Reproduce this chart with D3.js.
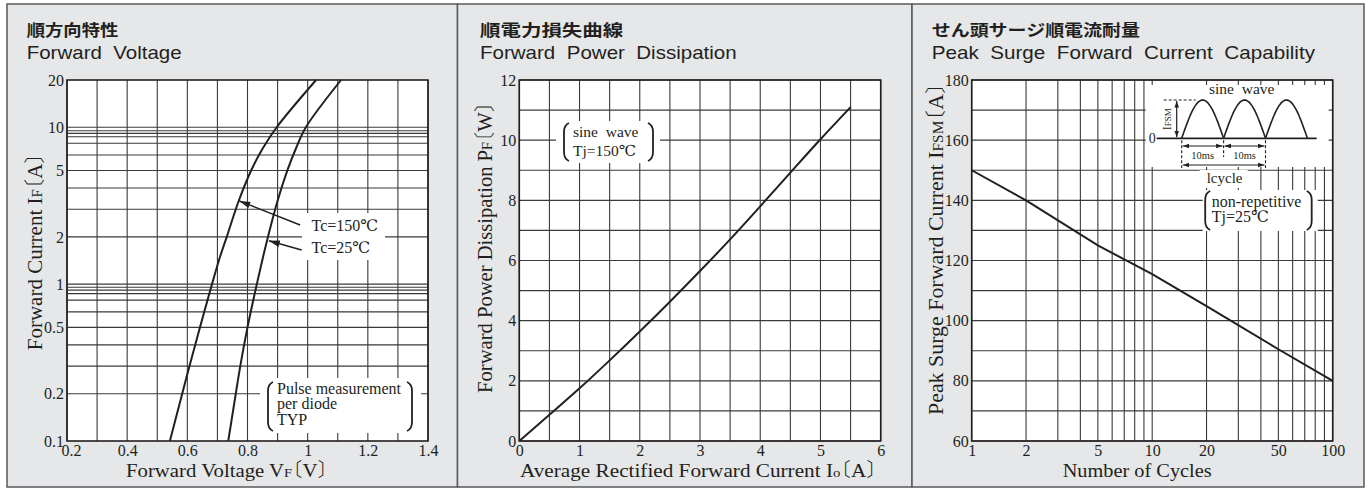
<!DOCTYPE html>
<html>
<head>
<meta charset="utf-8">
<script src="https://cdn.jsdelivr.net/npm/d3@7"></script>
<style>
  body { margin: 0; background: #fff; }
  svg { display: block; }
  text { fill: #231f20; }
  .jp-title { font-family: "Noto Sans CJK JP", sans-serif; font-weight: 700; font-size: 16px; }
  .en-title { font-family: "Liberation Sans", Arial, sans-serif; font-size: 19px; white-space: pre; }
  .serif, .tick text { font-family: "Liberation Serif", "DejaVu Serif", serif; }
  .tick text { font-size: 16px; fill: #231f20; }
  .cjk { font-family: "Noto Sans CJK JP", sans-serif; font-weight: 300; font-feature-settings: "halt" 1; }
  .note { font-size: 16px; white-space: pre; }
  .grid line { stroke: #3a3a3a; stroke-width: 1.1; }
</style>
</head>
<body>
<script>
// ---- Forward Voltage (順方向特性) ----
const fvCurrent = [0.1, 0.2, 0.3, 0.53, 1, 1.5, 2, 3.4, 5.4, 7.4, 10, 20];
const fvVoltage150 = [0.542, 0.583, 0.607, 0.642, 0.682, 0.709, 0.731, 0.771, 0.814, 0.852, 0.897, 1.028];
const fvVoltage25 = [0.736, 0.761, 0.776, 0.800, 0.831, 0.852, 0.868, 0.900, 0.934, 0.962, 0.994, 1.111];
const fvVoltGrid = [0.2, 0.3, 0.4, 0.5, 0.6, 0.7, 0.8, 0.9, 1.0, 1.1, 1.2, 1.3, 1.4];
const fvVoltTicks = [0.2, 0.4, 0.6, 0.8, 1, 1.2, 1.4];
const fvCurrGrid = [0.2, 0.3, 0.41, 0.53, 0.665, 0.79, 0.87, 0.915, 0.954, 1,
                    2, 3, 4.1, 5.3, 6.65, 7.9, 8.7, 9.14, 9.5, 10];
const fvCurrTicks = [0.1, 0.2, 0.53, 1, 2, 5.3, 10, 20];
const fvCurrLabels = ["0.1", "0.2", "0.5", "1", "2", "5", "10", "20"];

// ---- Forward Power Dissipation (順電力損失曲線) ----
const pdCurrent = [0, 0.5, 1, 1.5, 2, 2.5, 3, 3.5, 4, 4.5, 5, 5.5];
const pdPower = [0, 0.87, 1.75, 2.68, 3.64, 4.63, 5.65, 6.7, 7.8, 8.92, 10.03, 11.1];
const pdCurrGrid = [0, 0.5, 1, 1.5, 2, 2.5, 3, 3.5, 4, 4.5, 5, 5.5, 6];
const pdCurrTicks = [0, 1, 2, 3, 4, 5, 6];
const pdPowerGrid = [0, 1, 2, 3, 4, 5, 6, 7, 8, 9, 10, 11, 12];
const pdPowerTicks = [0, 2, 4, 6, 8, 10, 12];

// ---- Peak Surge Forward Current (せん頭サージ順電流耐量) ----
const surgeCycles = [1, 2, 5, 10, 20, 50, 100];
const surgeCurrent = [150, 140, 125, 115.5, 104.8, 90.5, 80];
const surgeCycleGrid = [1, 2, 3, 4, 5, 6, 7, 8, 9, 10, 20, 30, 40, 50, 60, 70, 80, 90, 100];
const surgeCycleTicks = [1, 2, 5, 10, 20, 50, 100];
const surgeCurrGrid = [60, 70, 80, 90, 100, 110, 120, 130, 140, 150, 160, 170, 180];
const surgeCurrTicks = [60, 80, 100, 120, 140, 160, 180];

const ink = "#231f20";
const svg = d3.select("body").append("svg").attr("width", 1370).attr("height", 488);

const defs = svg.append("defs");
defs.append("marker").attr("id", "arrow")
    .attr("viewBox", "0 0 10 10").attr("refX", 10).attr("refY", 5)
    .attr("markerWidth", 11).attr("markerHeight", 11)
    .attr("markerUnits", "userSpaceOnUse").attr("orient", "auto-start-reverse")
    .append("path").attr("d", "M0,2L10,5L0,8Z").attr("fill", ink);
defs.append("marker").attr("id", "arrowS")
    .attr("viewBox", "0 0 10 10").attr("refX", 10).attr("refY", 5)
    .attr("markerWidth", 6.5).attr("markerHeight", 6.5)
    .attr("markerUnits", "userSpaceOnUse").attr("orient", "auto-start-reverse")
    .append("path").attr("d", "M0,1.5L10,5L0,8.5Z").attr("fill", ink);

// panel backgrounds
const panelEdges = [7, 457.5, 912, 1364];
for (let i = 0; i < 3; i++) {
    svg.append("rect")
        .attr("x", panelEdges[i]).attr("y", 4)
        .attr("width", panelEdges[i + 1] - panelEdges[i]).attr("height", 483)
        .attr("fill", "#e6e7e8").attr("stroke", "#58595b").attr("stroke-width", 1.5);
}

function titles(x, jp, jpLen, en, enLen) {
    svg.append("text").attr("class", "jp-title").attr("x", x).attr("y", 36)
        .attr("textLength", jpLen).attr("lengthAdjust", "spacingAndGlyphs").text(jp);
    svg.append("text").attr("class", "en-title").attr("x", x).attr("y", 58.5)
        .attr("textLength", enLen).attr("lengthAdjust", "spacingAndGlyphs").text(en);
}

// parts: plain strings, {sub: "F"} small caps, {br} brackets
function axisTitle(parts, x, y, len, size, rotate) {
    const t = svg.append("text").attr("class", "serif")
        .attr("text-anchor", "middle").style("font-size", size + "px")
        .attr("textLength", len).attr("lengthAdjust", "spacingAndGlyphs");
    if (rotate) t.attr("transform", `translate(${x},${y}) rotate(-90)`);
    else t.attr("x", x).attr("y", y);
    parts.forEach(p => {
        if (typeof p === "string") t.append("tspan").text(p);
        else if (p.sub) t.append("tspan").style("font-size", "0.7em").text(p.sub);
        else t.append("tspan").attr("class", "cjk").text(p.br);
    });
}

// plot body: white area + grid, returns layers
function plotBase(x, y, xGrid, yGrid) {
    const [x0, x1] = x.range();
    const [yb, yt] = y.range();
    const g = svg.append("g");
    g.append("rect").attr("x", x0).attr("y", yt).attr("width", x1 - x0).attr("height", yb - yt)
        .attr("fill", "#fff");
    const grid = g.append("g").attr("class", "grid");
    grid.selectAll("line.v").data(xGrid).join("line").attr("class", "v")
        .attr("x1", d => x(d)).attr("x2", d => x(d)).attr("y1", yt).attr("y2", yb);
    grid.selectAll("line.h").data(yGrid).join("line").attr("class", "h")
        .attr("y1", d => y(d)).attr("y2", d => y(d)).attr("x1", x0).attr("x2", x1);
    const notes = g.append("g");
    const marks = g.append("g");
    g.append("rect").attr("x", x0).attr("y", yt).attr("width", x1 - x0)
        .attr("height", yb - yt).attr("fill", "none").attr("stroke", ink).attr("stroke-width", 1.6);
    return {g, notes, marks, x0, x1, yt, yb};
}

function axes(p, x, y, xTicks, xFmt, yTicks, yFmt) {
    p.g.append("g").attr("transform", `translate(0,${p.yb})`)
        .call(d3.axisBottom(x).tickValues(xTicks).tickFormat(xFmt).tickSize(0).tickPadding(4))
        .call(a => a.select(".domain").remove());
    p.g.append("g").attr("transform", `translate(${p.x0},0)`)
        .call(d3.axisLeft(y).tickValues(yTicks).tickFormat(yFmt).tickSize(0).tickPadding(3))
        .call(a => a.select(".domain").remove());
}

function whiteBox(layer, x0, y0, x1, y1) {
    layer.append("rect").attr("x", x0).attr("y", y0).attr("width", x1 - x0).attr("height", y1 - y0)
        .attr("fill", "#fff");
}

function brace(layer, x, y0, y1, dir) {
    const h = 5 * dir;
    layer.append("path")
        .attr("d", `M${x + h},${y0} Q${x},${y0 + 2} ${x},${y0 + 9} L${x},${y1 - 9} Q${x},${y1 - 2} ${x + h},${y1}`)
        .attr("fill", "none").attr("stroke", ink).attr("stroke-width", 1.8);
}

const fmtNum = d => String(d);

// ================= Panel 1 =================
{
    const x = d3.scaleLinear().domain([0.2, 1.4]).range([67, 428]);
    const y = d3.scaleLog().domain([0.1, 20]).range([441, 80]);
    const p = plotBase(x, y, fvVoltGrid, fvCurrGrid);

    // label backgrounds
    whiteBox(p.notes, 302, 213, 385, 260);
    whiteBox(p.notes, 260, 378, 421, 433);

    const line = d3.line().x(d => x(d[0])).y(d => y(d[1])).curve(d3.curveCatmullRom);
    p.marks.append("path").datum(d3.zip(fvVoltage150, fvCurrent)).attr("d", line)
        .attr("fill", "none").attr("stroke", ink).attr("stroke-width", 2);
    p.marks.append("path").datum(d3.zip(fvVoltage25, fvCurrent)).attr("d", line)
        .attr("fill", "none").attr("stroke", ink).attr("stroke-width", 2);

    // annotation arrows
    p.marks.append("line").attr("x1", x(0.975)).attr("y1", y(2.38)).attr("x2", x(0.773)).attr("y2", y(3.39))
        .attr("stroke", ink).attr("stroke-width", 1.5).attr("marker-end", "url(#arrow)");
    p.marks.append("line").attr("x1", x(0.98)).attr("y1", y(1.65)).attr("x2", x(0.871)).attr("y2", y(1.89))
        .attr("stroke", ink).attr("stroke-width", 1.5).attr("marker-end", "url(#arrow)");
    p.marks.append("text").attr("class", "serif note").attr("x", x(1.013)).attr("y", 230.7).text("Tc=150℃");
    p.marks.append("text").attr("class", "serif note").attr("x", x(1.013)).attr("y", 253).text("Tc=25℃");

    brace(p.marks, 268, 382, 431, 1);
    brace(p.marks, 412, 382, 431, -1);
    const pulse = p.marks.append("text").attr("class", "serif note");
    ["Pulse measurement", "per diode", "TYP"].forEach((s, i) =>
        pulse.append("tspan").attr("x", 277).attr("y", 393.5 + i * 15.8).text(s));

    axes(p, x, y, fvVoltTicks, fmtNum, fvCurrTicks, (d, i) => fvCurrLabels[i]);
    p.g.select("g .tick text").attr("dx", 4);
}
titles(26.7, "順方向特性", 91.7, "Forward  Voltage", 155);
axisTitle(["Forward Voltage V", {sub: "F"}, {br: "〔"}, "V", {br: "〕"}], 227, 476.7, 202, 19, false);
axisTitle(["Forward Current I", {sub: "F"}, {br: "〔"}, "A", {br: "〕"}], 41.5, 251.7, 197, 21, true);

// ================= Panel 2 =================
{
    const x = d3.scaleLinear().domain([0, 6]).range([519.3, 880.7]);
    const y = d3.scaleLinear().domain([0, 12]).range([441, 80]);
    const p = plotBase(x, y, pdCurrGrid, pdPowerGrid);

    whiteBox(p.notes, 556, 121, 660, 163);
    brace(p.notes, 564, 123, 161, 1);
    brace(p.notes, 653, 123, 161, -1);
    const t = p.notes.append("text").attr("class", "serif note").style("font-size", "15.5px");
    t.append("tspan").attr("x", 573).attr("y", 137).text("sine  wave");
    t.append("tspan").attr("x", 573).attr("y", 155.5).text("Tj=150℃");

    const line = d3.line().x(d => x(d[0])).y(d => y(d[1])).curve(d3.curveMonotoneX);
    p.marks.append("path").datum(d3.zip(pdCurrent, pdPower)).attr("d", line)
        .attr("fill", "none").attr("stroke", ink).attr("stroke-width", 2);

    axes(p, x, y, pdCurrTicks, fmtNum, pdPowerTicks, fmtNum);
}
titles(480, "順電力損失曲線", 143.3, "Forward  Power  Dissipation", 256.7);
axisTitle(["Average Rectified Forward Current I", {sub: "o"}, {br: "〔"}, "A", {br: "〕"}], 698.5, 476.7, 357, 19, false);
axisTitle(["Forward Power Dissipation P", {sub: "F"}, {br: "〔"}, "W", {br: "〕"}], 492, 247.4, 291, 21, true);

// ================= Panel 3 =================
{
    const x = d3.scaleLog().domain([1, 100]).range([971.7, 1332.7]);
    const y = d3.scaleLinear().domain([60, 180]).range([441, 80]);
    const p = plotBase(x, y, surgeCycleGrid, surgeCurrGrid);

    // inset diagram (schematic, placed from the plot's upper right corner)
    const ox = p.x1, oy = p.yt;
    whiteBox(p.notes, ox - 187, oy + 5, ox - 4, oy + 87);
    whiteBox(p.notes, ox - 133, oy + 90, ox - 85, oy + 108);
    whiteBox(p.notes, ox - 130, oy + 110, ox - 15, oy + 151);

    const d = p.marks;
    const zeroY = oy + 58.3, peak = 38.3, w = 41.9, sx = ox - 151;
    d.append("line").attr("x1", ox - 176).attr("x2", ox - 16).attr("y1", zeroY).attr("y2", zeroY)
        .attr("stroke", ink).attr("stroke-width", 1.8);
    const hump = d3.line().x(t => t[0]).y(t => t[1]);
    for (let k = 0; k < 3; k++) {
        const pts = d3.range(0, 41).map(i => [sx + k * w + i / 40 * w, zeroY - peak * Math.sin(Math.PI * i / 40)]);
        d.append("path").attr("d", hump(pts)).attr("fill", "none").attr("stroke", ink).attr("stroke-width", 1.6);
    }
    d.append("line").attr("x1", ox - 169).attr("x2", ox - 137).attr("y1", zeroY - peak).attr("y2", zeroY - peak)
        .attr("stroke", ink).attr("stroke-width", 1.2).attr("stroke-dasharray", "3,2");
    d.append("line").attr("x1", ox - 156).attr("x2", ox - 156).attr("y1", zeroY - peak + 1).attr("y2", zeroY - 1)
        .attr("stroke", ink).attr("stroke-width", 1.2)
        .attr("marker-start", "url(#arrowS)").attr("marker-end", "url(#arrowS)");
    const ifsm = d.append("text").attr("class", "serif").style("font-size", "12px")
        .attr("text-anchor", "middle").attr("transform", `translate(${ox - 162},${zeroY - 19}) rotate(-90)`);
    ifsm.append("tspan").text("I");
    ifsm.append("tspan").style("font-size", "9px").text("FSM");
    d.append("text").attr("class", "serif").style("font-size", "14px").attr("text-anchor", "end")
        .attr("x", ox - 177).attr("y", zeroY + 4.5).text("0");
    [0, 1, 2].forEach(k => {
        d.append("line").attr("x1", sx + k * w).attr("x2", sx + k * w)
            .attr("y1", zeroY + 2).attr("y2", oy + (k === 1 ? 77 : 88))
            .attr("stroke", ink).attr("stroke-width", 1.1).attr("stroke-dasharray", "3,2");
    });
    [0, 1].forEach(k => {
        d.append("line").attr("x1", sx + k * w + 1).attr("x2", sx + (k + 1) * w - 1)
            .attr("y1", oy + 66).attr("y2", oy + 66).attr("stroke", ink).attr("stroke-width", 1.1)
            .attr("marker-start", "url(#arrowS)").attr("marker-end", "url(#arrowS)");
        d.append("text").attr("class", "serif").style("font-size", "10.5px").attr("text-anchor", "middle")
            .attr("x", sx + k * w + w / 2).attr("y", oy + 78.5).text("10ms");
    });
    d.append("line").attr("x1", sx + 1).attr("x2", sx + 2 * w - 1)
        .attr("y1", oy + 85).attr("y2", oy + 85).attr("stroke", ink).attr("stroke-width", 1.1)
        .attr("marker-start", "url(#arrowS)").attr("marker-end", "url(#arrowS)");
    d.append("text").attr("class", "serif").style("font-size", "15px").attr("text-anchor", "middle")
        .attr("x", sx + w + 1).attr("y", oy + 103.3).text("lcycle");
    d.append("text").attr("class", "serif").style("font-size", "15.5px").style("white-space", "pre")
        .attr("text-anchor", "middle").attr("x", ox - 91).attr("y", oy + 13.5).text("sine  wave");

    brace(d, ox - 127.5, oy + 111, oy + 150, 1);
    brace(d, ox - 21, oy + 111, oy + 150, -1);
    const nr = d.append("text").attr("class", "serif note");
    nr.append("tspan").attr("x", ox - 121).attr("y", oy + 126.7).text("non-repetitive");
    nr.append("tspan").attr("x", ox - 121).attr("y", oy + 141.7).text("Tj=25℃");

    const line = d3.line().x(d => x(d[0])).y(d => y(d[1]));
    p.marks.append("path").datum(d3.zip(surgeCycles, surgeCurrent)).attr("d", line)
        .attr("fill", "none").attr("stroke", ink).attr("stroke-width", 2);

    axes(p, x, y, surgeCycleTicks, fmtNum, surgeCurrTicks, fmtNum);
}
titles(931.7, "せん頭サージ順電流耐量", 208.3, "Peak  Surge  Forward  Current  Capability", 383.3);
axisTitle(["Number of Cycles"], 1137.2, 476.7, 149, 19, false);
axisTitle(["Peak Surge Forward Current I", {sub: "FSM"}, {br: "〔"}, "A", {br: "〕"}], 942.5, 249, 332, 21, true);
</script>
</body>
</html>
